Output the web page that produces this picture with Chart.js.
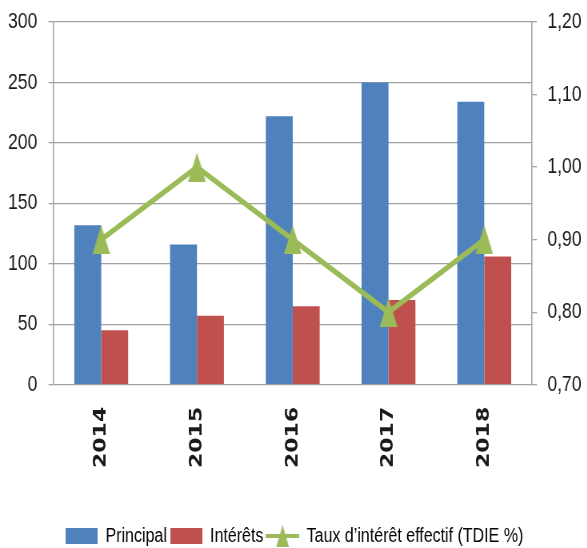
<!DOCTYPE html>
<html>
<head>
<meta charset="utf-8">
<script src="https://cdn.jsdelivr.net/npm/chart.js@4"></script>
<style>
  html, body { margin: 0; padding: 0; background: #fff; overflow: hidden; }
  #outer { width: 587px; height: 548px; overflow: hidden; }
  /* the reference is horizontally condensed: draw wide, squeeze on X */
  #wrap { width: 734px; height: 548px; transform: scaleX(0.8); transform-origin: 0 0; }
</style>
</head>
<body>
<div id="outer"><div id="wrap"><canvas id="chart"></canvas></div></div>
<script>
/* ---------- DATA ---------- */
const years     = ['2014', '2015', '2016', '2017', '2018'];
const principal = [132, 116, 222, 250, 234];
const interets  = [45, 57, 65, 70, 106];
const tdie      = [0.90, 1.00, 0.90, 0.80, 0.90];

const BLUE  = '#4F81BD';
const RED   = '#C0504D';
const GREEN = '#9BBB59';
const GRID  = '#A0A0A0';
const TEXT  = '#1a1a1a';
const SANS  = "'Liberation Sans', Arial, sans-serif";

/* ---------- MARKER / LEGEND ICONS ---------- */
function triangleIcon(w, h) {
  const c = document.createElement('canvas');
  c.width = w; c.height = h;
  const g = c.getContext('2d');
  g.fillStyle = GREEN;
  g.beginPath(); g.moveTo(w / 2, 0); g.lineTo(w, h); g.lineTo(0, h); g.closePath(); g.fill();
  return c;
}

function rectIcon(color) {
  const c = document.createElement('canvas');
  c.width = 40; c.height = 16;
  const g = c.getContext('2d');
  g.fillStyle = color;
  g.fillRect(0, 0, 40, 16);
  return c;
}

function lineIcon() {
  const c = document.createElement('canvas');
  c.width = 42; c.height = 22;
  const g = c.getContext('2d');
  g.strokeStyle = GREEN;
  g.lineWidth = 4;
  g.beginPath(); g.moveTo(0, 11); g.lineTo(42, 11); g.stroke();
  g.drawImage(triangleIcon(16, 22), 13, 0);
  return c;
}

const marker = triangleIcon(22, 29);
const icons = [lineIcon(), rectIcon(BLUE), rectIcon(RED)];

/* ---------- CHART ---------- */
new Chart(document.getElementById('chart'), {
  data: {
    labels: years,
    datasets: [
      {
        type: 'line',
        label: 'Taux d\u2019intérêt effectif (TDIE %)',
        data: tdie,
        yAxisID: 'y1',
        borderColor: GREEN,
        backgroundColor: GREEN,
        borderWidth: 5.5,
        pointStyle: marker,
        pointRadius: 12,
        tension: 0
      },
      {
        type: 'bar',
        label: 'Principal',
        data: principal,
        yAxisID: 'y',
        backgroundColor: BLUE,
        categoryPercentage: 0.5625,
        barPercentage: 1
      },
      {
        type: 'bar',
        label: 'Intérêts',
        data: interets,
        yAxisID: 'y',
        backgroundColor: RED,
        categoryPercentage: 0.5625,
        barPercentage: 1
      }
    ]
  },
  options: {
    responsive: true,
    maintainAspectRatio: false,
    animation: false,
    layout: { padding: { top: 22, left: -4, right: -6, bottom: -8 } },
    plugins: {
      tooltip: { enabled: false },
      legend: {
        position: 'bottom',
        labels: {
          usePointStyle: true,
          pointStyleWidth: 40,
          padding: 4,
          color: TEXT,
          font: { family: SANS, size: 20 },
          generateLabels: chart => [1, 2, 0].map(i => ({
            text: chart.data.datasets[i].label,
            fillStyle: chart.data.datasets[i].backgroundColor,
            strokeStyle: chart.data.datasets[i].backgroundColor,
            lineWidth: 0,
            pointStyle: icons[i],
            datasetIndex: i,
            hidden: false
          }))
        }
      }
    },
    scales: {
      x: {
        grid: { display: false },
        border: { display: false },
        afterFit: scale => { scale.height += 40; },
        ticks: {
          minRotation: 90,
          maxRotation: 90,
          padding: 14,
          color: TEXT,
          font: { family: "'DejaVu Sans'", size: 22, weight: 'bold' }
        }
      },
      y: {
        position: 'left',
        min: 0,
        max: 300,
        afterFit: scale => { scale.paddingTop = 0; },
        ticks: {
          stepSize: 50,
          padding: 14,
          color: TEXT,
          font: { family: SANS, size: 22 }
        },
        grid: { color: GRID, lineWidth: 1.3, tickLength: 6 },
        border: { color: GRID, width: 1.5 }
      },
      y1: {
        position: 'right',
        min: 0.7,
        max: 1.2,
        afterFit: scale => { scale.paddingTop = 0; },
        ticks: {
          stepSize: 0.1,
          padding: 13,
          color: TEXT,
          font: { family: SANS, size: 22 },
          callback: v => Number(v).toFixed(2).replace('.', ',')
        },
        grid: { drawOnChartArea: false, color: GRID, lineWidth: 1.3, tickLength: 6 },
        border: { color: GRID, width: 1.5 }
      }
    }
  }
});
</script>
</body>
</html>
